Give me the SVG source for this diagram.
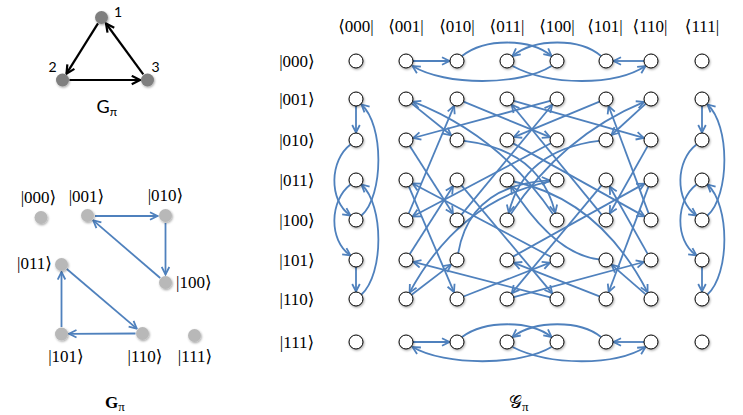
<svg xmlns="http://www.w3.org/2000/svg" width="743" height="415" viewBox="0 0 743 415">
<style>
.lbl{font-family:"Liberation Serif","DejaVu Serif",serif;font-size:17px;fill:#000}
.lbm{text-anchor:middle}
.sans{font-family:Lato,"Open Sans","Liberation Sans",sans-serif;fill:#000}
.gn{fill:#fff;stroke:#000;stroke-width:1;filter:url(#sh)}
.ln{fill:#b8b8b8;filter:url(#sh)}
.dn{fill:#7f7f7f;filter:url(#sh)}
.e{fill:none;stroke:#4f81bd;stroke-width:1.8;marker-end:url(#ab)}
.k{fill:none;stroke:#000;stroke-width:2.2;marker-end:url(#ak)}
</style>
<defs>
<filter id="sh" x="-50%" y="-50%" width="200%" height="200%">
<feDropShadow dx="0.8" dy="1.2" stdDeviation="0.9" flood-color="#000" flood-opacity="0.35"/>
</filter>
<marker id="ab" viewBox="0 0 10 10" refX="9" refY="5" markerWidth="10" markerHeight="10" markerUnits="userSpaceOnUse" orient="auto">
<path d="M1.5,1.2 L9,5 L1.5,8.8" fill="none" stroke="#4f81bd" stroke-width="1.8"/>
</marker>
<marker id="ak" viewBox="0 0 10 10" refX="9" refY="5" markerWidth="11" markerHeight="11" markerUnits="userSpaceOnUse" orient="auto">
<path d="M1.5,1.2 L9,5 L1.5,8.8" fill="none" stroke="#000" stroke-width="2"/>
</marker>
</defs>
<rect width="743" height="415" fill="#fff"/>

<!-- small triangle graph G_pi -->
<g id="tri-edges">
<path class="k" d="M98,23.4 L66.5,73.6"/>
<path class="k" d="M69.5,80 L140,80"/>
<path class="k" d="M143.3,74.4 L106,23.5"/>
</g>
<g id="t1"><circle class="dn" cx="101.5" cy="17.5" r="6.5"/><text class="sans" x="114" y="17" font-size="14">1</text></g>
<g id="t2"><circle class="dn" cx="62.5" cy="80" r="6.5"/><text class="sans" x="48.5" y="72" font-size="14">2</text></g>
<g id="t3"><circle class="dn" cx="147.5" cy="80" r="6.5"/><text class="sans" x="151.5" y="72" font-size="14">3</text></g>
<text class="sans" x="96.5" y="113" font-size="18">G<tspan font-size="12" dy="3">π</tspan></text>

<!-- left state graph G_pi -->
<g id="left-edges">
<path class="e" d="M95,216 L157.5,216"/>
<path class="e" d="M165.5,223 L165.5,274.5"/>
<path class="e" d="M160.2,278 L93.2,220.4"/>
<path class="e" d="M66.8,269 L136.8,328.6"/>
<path class="e" d="M135.5,333.5 L69,333.8"/>
<path class="e" d="M61.5,327 L61.5,272"/>
</g>
<g id="s000"><circle class="ln" cx="41" cy="217.5" r="6.5"/><text class="lbl lbm" x="38.5" y="203">|000⟩</text></g>
<g id="s001"><circle class="ln" cx="87.5" cy="215.5" r="6.5"/><text class="lbl lbm" x="86.5" y="202">|001⟩</text></g>
<g id="s010"><circle class="ln" cx="165.5" cy="215.5" r="6.5"/><text class="lbl lbm" x="165.5" y="201">|010⟩</text></g>
<g id="s011"><circle class="ln" cx="61.5" cy="264.5" r="6.5"/><text class="lbl" x="52" y="269" text-anchor="end">|011⟩</text></g>
<g id="s100"><circle class="ln" cx="165.5" cy="282.5" r="6.5"/><text class="lbl" x="176" y="288">|100⟩</text></g>
<g id="s101"><circle class="ln" cx="61.5" cy="334" r="6.5"/><text class="lbl lbm" x="66" y="362">|101⟩</text></g>
<g id="s110"><circle class="ln" cx="142.5" cy="333.5" r="6.5"/><text class="lbl lbm" x="145" y="362">|110⟩</text></g>
<g id="s111"><circle class="ln" cx="194.5" cy="335.5" r="6.5"/><text class="lbl lbm" x="195" y="362">|111⟩</text></g>
<text class="lbl" x="105" y="408" font-size="18" font-weight="bold">G<tspan font-size="13" font-weight="normal" dy="3">π</tspan></text>

<!-- big graph labels -->
<g id="bra-labels" class="lbl lbm">
<text x="356" y="32">⟨000|</text>
<text x="406" y="32">⟨001|</text>
<text x="457" y="32">⟨010|</text>
<text x="507" y="32">⟨011|</text>
<text x="557" y="32">⟨100|</text>
<text x="605" y="32">⟨101|</text>
<text x="650" y="32">⟨110|</text>
<text x="702" y="32">⟨111|</text>
</g>
<g id="ket-labels" class="lbl lbm">
<text x="297" y="67">|000⟩</text>
<text x="297" y="105">|001⟩</text>
<text x="297" y="146">|010⟩</text>
<text x="297" y="186">|011⟩</text>
<text x="297" y="226">|100⟩</text>
<text x="297" y="266">|101⟩</text>
<text x="297" y="305">|110⟩</text>
<text x="297" y="348">|111⟩</text>
</g>
<text x="509" y="408" font-family="'DejaVu Serif','DejaVu Sans',serif" font-size="18">𝒢<tspan font-family="'Liberation Serif',serif" font-size="13" dy="3">π</tspan></text>

<!-- connectors of the big graph -->
<g id="connectors">
<path class="e" d="M413,61 L449.5,61"/>
<path class="e" d="M462,56 C485,38 530,38 551.5,56"/>
<path class="e" d="M551.5,66 C520,86 445,86 412.5,66"/>
<path class="e" d="M601,56 C580,38 535,38 512.5,56"/>
<path class="e" d="M644,61 L613.5,61"/>
<path class="e" d="M512.5,66 C550,86 615,86 645.5,66"/>

<path class="e" d="M413,342 L449.5,342"/>
<path class="e" d="M462,337 C485,320 530,320 551.5,337"/>
<path class="e" d="M551.5,347 C520,366 445,366 412.5,347"/>
<path class="e" d="M601,337 C580,320 535,320 512.5,337"/>
<path class="e" d="M644,342 L613.5,342"/>
<path class="e" d="M512.5,347 C550,366 615,366 645.5,347"/>

<path class="e" d="M356,106 L356,132.5"/>
<path class="e" d="M350.5,144.5 C330,160 328,200 350.5,215.5"/>
<path class="e" d="M361.5,215.5 C384,195 384,125 361.5,104.5"/>
<path class="e" d="M350.5,184.5 C330,200 328,240 350.5,255.5"/>
<path class="e" d="M356,267 L356,291.5"/>
<path class="e" d="M361.5,294.5 C384,274 384,205 361.5,184.5"/>

<path class="e" d="M702,106 L702,132.5"/>
<path class="e" d="M696.5,144.5 C676,160 674,200 696.5,215.5"/>
<path class="e" d="M707.5,215.5 C730,195 730,125 707.5,104.5"/>
<path class="e" d="M696.5,184.5 C676,200 674,240 696.5,255.5"/>
<path class="e" d="M702,267 L702,291.5"/>
<path class="e" d="M707.5,294.5 C730,274 730,205 707.5,184.5"/>

<path class="e" d="M411.5,103.4 L451.1,135.3"/>
<path class="e" d="M463.5,101.7 L550.1,137.2"/>
<path class="e" d="M513.7,100.9 L643.8,137.9"/>
<path class="e" d="M550.2,100.8 L413.2,138"/>
<path class="e" d="M599.5,101.7 L513.9,137.1"/>
<path class="e" d="M645.8,103.7 L611.5,135"/>
<path class="e" d="M409.8,145.9 L453,213.7"/>
<path class="e" d="M464,140.8 Q540,150 555.2,212.7"/>
<path class="e" d="M513.1,143.4 L644.4,216.4"/>
<path class="e" d="M550.8,143.3 L412.6,216.5"/>
<path class="e" d="M599,140.8 Q524,150 508.8,212.7"/>
<path class="e" d="M647.6,146.1 L609.7,213.5"/>
<path class="e" d="M408.8,186.4 L454,292.1"/>
<path class="e" d="M461.5,185.4 L552.2,293.3"/>
<path class="e" d="M513.8,181.5 Q600,200 647.6,292.3"/>
<path class="e" d="M550.1,181.4 Q460,200 409.6,292.4"/>
<path class="e" d="M601.5,185.4 L511.8,293.2"/>
<path class="e" d="M648.5,186.6 L608.7,292"/>
<path class="e" d="M408.7,213.5 L454.1,105.9"/>
<path class="e" d="M461.5,214.6 L552.2,104.8"/>
<path class="e" d="M510.8,214.1 Q562,136 644.1,101.9"/>
<path class="e" d="M553.1,214.2 Q500,136 413,101.7"/>
<path class="e" d="M601.6,214.6 L511.7,104.8"/>
<path class="e" d="M648.6,213.4 L608.6,106"/>
<path class="e" d="M409.8,254.1 L453,186.3"/>
<path class="e" d="M458.2,253.1 Q470,185 549.5,180.4"/>
<path class="e" d="M513.1,256.6 L644.4,183.6"/>
<path class="e" d="M550.8,256.7 L412.6,183.5"/>
<path class="e" d="M599,259.3 Q555,255 511,186.3"/>
<path class="e" d="M647.6,253.9 L609.7,186.5"/>
<path class="e" d="M411.6,294.7 L451,264.6"/>
<path class="e" d="M463.5,296.5 L550,262.7"/>
<path class="e" d="M513.8,297.2 L643.8,262"/>
<path class="e" d="M550.2,297.3 L413.3,261.9"/>
<path class="e" d="M599.5,296.4 L514,262.8"/>
<path class="e" d="M645.7,294.4 L611.7,264.9"/>
</g>

<!-- nodes of the big graph -->
<g id="k000b000"><circle class="gn" cx="356" cy="61" r="7"/></g>
<g id="k000b001"><circle class="gn" cx="406" cy="61" r="7"/></g>
<g id="k000b010"><circle class="gn" cx="457" cy="61" r="7"/></g>
<g id="k000b011"><circle class="gn" cx="507" cy="61" r="7"/></g>
<g id="k000b100"><circle class="gn" cx="557" cy="61" r="7"/></g>
<g id="k000b101"><circle class="gn" cx="606" cy="61" r="7"/></g>
<g id="k000b110"><circle class="gn" cx="651" cy="61" r="7"/></g>
<g id="k000b111"><circle class="gn" cx="702" cy="61" r="7"/></g>
<g id="k001b000"><circle class="gn" cx="356" cy="99" r="7"/></g>
<g id="k001b001"><circle class="gn" cx="406" cy="99" r="7"/></g>
<g id="k001b010"><circle class="gn" cx="457" cy="99" r="7"/></g>
<g id="k001b011"><circle class="gn" cx="507" cy="99" r="7"/></g>
<g id="k001b100"><circle class="gn" cx="557" cy="99" r="7"/></g>
<g id="k001b101"><circle class="gn" cx="606" cy="99" r="7"/></g>
<g id="k001b110"><circle class="gn" cx="651" cy="99" r="7"/></g>
<g id="k001b111"><circle class="gn" cx="702" cy="99" r="7"/></g>
<g id="k010b000"><circle class="gn" cx="356" cy="140" r="7"/></g>
<g id="k010b001"><circle class="gn" cx="406" cy="140" r="7"/></g>
<g id="k010b010"><circle class="gn" cx="457" cy="140" r="7"/></g>
<g id="k010b011"><circle class="gn" cx="507" cy="140" r="7"/></g>
<g id="k010b100"><circle class="gn" cx="557" cy="140" r="7"/></g>
<g id="k010b101"><circle class="gn" cx="606" cy="140" r="7"/></g>
<g id="k010b110"><circle class="gn" cx="651" cy="140" r="7"/></g>
<g id="k010b111"><circle class="gn" cx="702" cy="140" r="7"/></g>
<g id="k011b000"><circle class="gn" cx="356" cy="180" r="7"/></g>
<g id="k011b001"><circle class="gn" cx="406" cy="180" r="7"/></g>
<g id="k011b010"><circle class="gn" cx="457" cy="180" r="7"/></g>
<g id="k011b011"><circle class="gn" cx="507" cy="180" r="7"/></g>
<g id="k011b100"><circle class="gn" cx="557" cy="180" r="7"/></g>
<g id="k011b101"><circle class="gn" cx="606" cy="180" r="7"/></g>
<g id="k011b110"><circle class="gn" cx="651" cy="180" r="7"/></g>
<g id="k011b111"><circle class="gn" cx="702" cy="180" r="7"/></g>
<g id="k100b000"><circle class="gn" cx="356" cy="220" r="7"/></g>
<g id="k100b001"><circle class="gn" cx="406" cy="220" r="7"/></g>
<g id="k100b010"><circle class="gn" cx="457" cy="220" r="7"/></g>
<g id="k100b011"><circle class="gn" cx="507" cy="220" r="7"/></g>
<g id="k100b100"><circle class="gn" cx="557" cy="220" r="7"/></g>
<g id="k100b101"><circle class="gn" cx="606" cy="220" r="7"/></g>
<g id="k100b110"><circle class="gn" cx="651" cy="220" r="7"/></g>
<g id="k100b111"><circle class="gn" cx="702" cy="220" r="7"/></g>
<g id="k101b000"><circle class="gn" cx="356" cy="260" r="7"/></g>
<g id="k101b001"><circle class="gn" cx="406" cy="260" r="7"/></g>
<g id="k101b010"><circle class="gn" cx="457" cy="260" r="7"/></g>
<g id="k101b011"><circle class="gn" cx="507" cy="260" r="7"/></g>
<g id="k101b100"><circle class="gn" cx="557" cy="260" r="7"/></g>
<g id="k101b101"><circle class="gn" cx="606" cy="260" r="7"/></g>
<g id="k101b110"><circle class="gn" cx="651" cy="260" r="7"/></g>
<g id="k101b111"><circle class="gn" cx="702" cy="260" r="7"/></g>
<g id="k110b000"><circle class="gn" cx="356" cy="299" r="7"/></g>
<g id="k110b001"><circle class="gn" cx="406" cy="299" r="7"/></g>
<g id="k110b010"><circle class="gn" cx="457" cy="299" r="7"/></g>
<g id="k110b011"><circle class="gn" cx="507" cy="299" r="7"/></g>
<g id="k110b100"><circle class="gn" cx="557" cy="299" r="7"/></g>
<g id="k110b101"><circle class="gn" cx="606" cy="299" r="7"/></g>
<g id="k110b110"><circle class="gn" cx="651" cy="299" r="7"/></g>
<g id="k110b111"><circle class="gn" cx="702" cy="299" r="7"/></g>
<g id="k111b000"><circle class="gn" cx="356" cy="342" r="7"/></g>
<g id="k111b001"><circle class="gn" cx="406" cy="342" r="7"/></g>
<g id="k111b010"><circle class="gn" cx="457" cy="342" r="7"/></g>
<g id="k111b011"><circle class="gn" cx="507" cy="342" r="7"/></g>
<g id="k111b100"><circle class="gn" cx="557" cy="342" r="7"/></g>
<g id="k111b101"><circle class="gn" cx="606" cy="342" r="7"/></g>
<g id="k111b110"><circle class="gn" cx="651" cy="342" r="7"/></g>
<g id="k111b111"><circle class="gn" cx="702" cy="342" r="7"/></g>
</svg>
